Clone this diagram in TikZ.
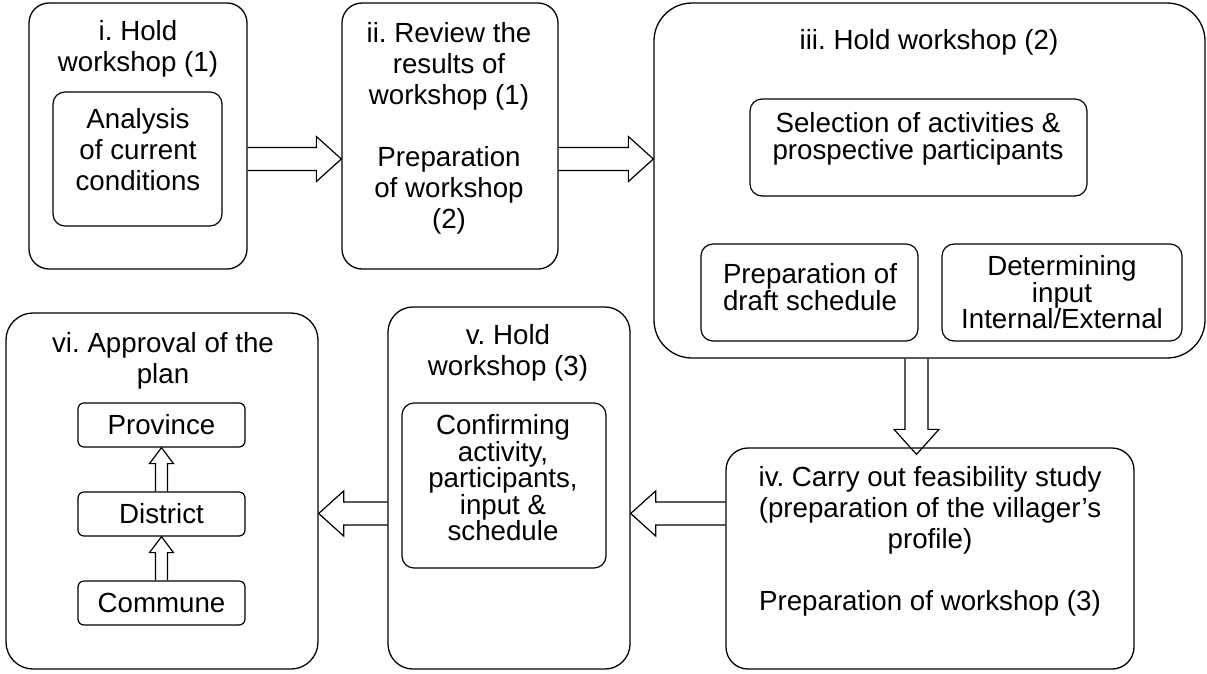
\documentclass[tikz,border=0pt]{standalone}
\usepackage{fontspec}
\setmainfont{Liberation Sans}
\frenchspacing
\usepackage{tikz}
\usetikzlibrary{calc}

\begin{document}
\begin{tikzpicture}[
  x=1pt, y=-1pt,
  every node/.style={font=\fontsize{27.7}{31}\selectfont, align=center, inner sep=0pt},
  stage/.style={draw, line width=1.3pt, rounded corners=#1},
  stage/.default=20pt,
  sub/.style={draw, line width=1.2pt, rounded corners=#1},
  sub/.default=12pt,
  tight/.style={font=\fontsize{27.7}{26.5}\selectfont},
  blk/.style n args={3}{draw, line width=1.2pt, to path={
    ($(\tikztostart)!#1!90:(\tikztotarget)$)
    -- ($($(\tikztotarget)!#3!(\tikztostart)$)!#1!90:(\tikztotarget)$)
    -- ($($(\tikztotarget)!#3!(\tikztostart)$)!#2!90:(\tikztotarget)$)
    -- (\tikztotarget)
    -- ($($(\tikztotarget)!#3!(\tikztostart)$)!#2!-90:(\tikztotarget)$)
    -- ($($(\tikztotarget)!#3!(\tikztostart)$)!#1!-90:(\tikztotarget)$)
    -- ($(\tikztostart)!#1!-90:(\tikztotarget)$)}},
  bigarr/.style={blk={11.5pt}{22.5pt}{25pt}},
  smallarr/.style={blk={6pt}{12pt}{16pt}},
]
\useasboundingbox (0,0) rectangle (1207,673);

% stages
\node[stage, minimum width=218pt, minimum height=266pt] (s1) at (138,136) {};
\node[stage, minimum width=216pt, minimum height=266pt] (s2) at (450,136) {};
\node[stage=38pt, minimum width=551pt, minimum height=355pt] (s3) at (929.5,180.5) {};
\node[stage=22pt, minimum width=408pt, minimum height=221pt] (s4) at (930,558.5) {};
\node[stage=25pt, minimum width=242pt, minimum height=362pt] (s5) at (509,488) {};
\node[stage=27pt, minimum width=312pt, minimum height=356pt] (s6) at (162,491) {};

\node (t1) at (138,49) {i. Hold\\workshop (1)};
\node[sub, minimum width=169pt, minimum height=134pt] (b1) at (137.5,159) {};
\node (u1) at (138,150) {Analysis\\of current\\conditions};

\node (t2) at (449,128)
  {ii. Review the\\results of\\workshop (1)\\[31pt]Preparation\\of workshop\\(2)};

\node (t3) at (929,42) {iii. Hold workshop (2)};
\node[sub, minimum width=337pt, minimum height=97pt] (b3a) at (918.5,147.5) {};
\node[tight] (u3a) at (918,139) {Selection of activities \&\\prospective participants};
\node[sub, minimum width=217pt, minimum height=97pt] (b3b) at (809.5,292.5) {};
\node[tight] (u3b) at (810,287) {Preparation of\\draft schedule};
\node[sub, tight, minimum width=240pt, minimum height=97pt] (b3c) at (1062,292.5)
  {Determining\\input\\Internal/External};

\node (t4) at (930,541)
  {iv. Carry out feasibility study\\(preparation of the villager’s\\profile)\\[31pt]Preparation of workshop (3)};

\node (t5) at (508,353) {v. Hold\\workshop (3)};
\node[sub, minimum width=204pt, minimum height=165pt] (b5) at (504,485.5) {};
\node[tight] (u5) at (503,478) {Confirming\\activity,\\participants,\\input \&\\schedule};

\node (t6) at (163,361) {vi. Approval of the\\plan};
\node[sub=6pt, minimum width=167pt, minimum height=44pt] (pv) at (161.5,425) {Province};
\node[sub=6pt, minimum width=167pt, minimum height=44pt] (ds) at (161.5,514) {District};
\node[sub=6pt, minimum width=167pt, minimum height=44pt] (cm) at (161.5,603) {Commune};

% flow
\coordinate (tip4) at ($(s4.north -| 916.5,0)+(0,7)$);
\draw[bigarr] (s1.east |- 0,159) to (s2.west |- 0,159);
\draw[bigarr] (s2.east |- 0,159) to (s3.west |- 0,159);
\draw[bigarr] (s3.south -| 916.5,0) to (tip4);
\draw[bigarr] (s4.west |- 0,513.5) to (s5.east |- 0,513.5);
\draw[bigarr] (s5.west |- 0,513.5) to (s6.east |- 0,513.5);
\draw[smallarr] (cm.north) to (ds.south);
\draw[smallarr] (ds.north) to (pv.south);
\end{tikzpicture}
\end{document}
